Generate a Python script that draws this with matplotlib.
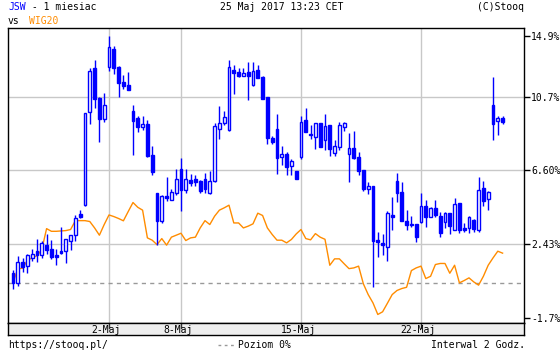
import numpy as np
import matplotlib
matplotlib.use("Agg")
import matplotlib.pyplot as plt

# ---- data (percent change vs reference) ----
jsw_open = [0.80, 0.24, 1.42, 1.18, 1.66, 2.04, 1.85, 2.40, 2.17, 1.83,
            2.04, 2.04, 2.60, 2.94, 4.14, 4.66, 9.86, 12.35, 10.67, 9.50,
            12.43, 13.42, 12.41, 11.54, 11.39, 9.91, 9.54, 9.05, 9.20, 7.46,
            5.32, 3.73, 5.15, 4.94, 5.34, 6.65, 5.49, 6.03, 6.09, 6.00,
            6.09, 5.32, 6.01, 8.94, 9.24, 8.88, 12.22, 12.13, 11.92, 12.13,
            11.38, 12.24, 11.84, 10.70, 8.41, 8.92, 7.33, 7.51, 6.82, 6.54,
            7.36, 9.43, 8.64, 8.49, 9.24, 8.28, 9.13, 7.59, 7.93, 9.01,
            7.53, 7.85, 7.33, 6.61, 5.56, 5.71, 2.68, 2.49, 2.30, 4.08,
            5.98, 5.38, 3.76, 3.58, 3.58, 3.67, 4.57, 3.99, 4.48, 4.01,
            3.67, 4.18, 3.26, 4.76, 3.35, 3.35, 3.78, 3.26, 5.60, 4.96,
            10.25, 9.35, 9.54]
jsw_high = [0.99, 1.76, 1.66, 1.89, 2.19, 2.75, 2.60, 3.01, 2.68, 2.15,
            3.41, 2.71, 2.98, 4.06, 4.36, 9.80, 12.37, 12.80, 10.70, 10.94,
            14.15, 13.59, 12.48, 11.96, 12.14, 10.27, 9.63, 9.63, 9.43, 7.96,
            5.32, 5.23, 6.22, 5.53, 6.65, 7.29, 6.67, 6.39, 6.33, 6.07,
            6.43, 6.58, 9.26, 10.21, 9.91, 12.80, 12.54, 12.35, 12.35, 12.69,
            12.69, 12.54, 11.88, 10.70, 8.51, 9.76, 7.96, 7.63, 7.23, 6.54,
            9.63, 10.10, 9.14, 9.24, 9.24, 9.76, 9.16, 8.30, 9.29, 9.29,
            8.68, 8.79, 7.63, 6.61, 5.92, 5.71, 3.13, 3.01, 4.33, 5.08,
            6.45, 5.94, 4.36, 4.01, 3.58, 5.32, 4.94, 4.53, 4.91, 4.25,
            4.25, 4.18, 5.04, 4.76, 3.61, 4.01, 3.84, 6.22, 6.00, 5.45,
            11.83, 9.65, 9.65]
jsw_low = [-0.06, 0.11, 0.86, 0.82, 1.48, 1.44, 1.63, 1.89, 1.61, 1.29,
           1.91, 1.40, 2.11, 2.64, 3.91, 4.61, 9.22, 10.10, 8.21, 9.31,
           12.16, 12.03, 10.70, 11.17, 11.11, 7.48, 8.73, 8.88, 7.33, 6.35,
           2.41, 3.63, 4.89, 4.91, 5.23, 4.33, 5.34, 5.69, 5.71, 5.32,
           5.30, 5.28, 5.94, 8.38, 9.16, 8.81, 10.91, 11.86, 11.88, 10.57,
           11.34, 11.79, 10.61, 8.08, 8.08, 6.41, 6.91, 6.35, 6.35, 6.13,
           7.25, 8.75, 8.36, 7.81, 7.93, 7.76, 7.42, 7.42, 7.76, 8.79,
           5.94, 7.23, 6.31, 5.41, 5.26, 0.05, 1.74, 1.81, 1.51, 3.26,
           4.83, 3.76, 3.26, 3.41, 2.53, 3.60, 3.39, 3.99, 3.99, 2.86,
           3.37, 3.03, 3.26, 3.07, 3.13, 3.05, 3.13, 3.13, 4.57, 4.38,
           8.32, 8.60, 9.22]
jsw_close = [0.24, 1.42, 1.14, 1.85, 1.89, 1.81, 2.49, 2.13, 1.74, 1.72,
             1.93, 2.71, 2.94, 3.89, 3.97, 9.80, 12.16, 10.63, 9.50, 10.25,
             13.51, 12.35, 11.53, 11.36, 11.13, 9.39, 9.01, 9.18, 7.40, 6.50,
             3.76, 5.13, 5.04, 5.38, 6.09, 5.51, 6.09, 5.88, 5.94, 5.41,
             5.56, 5.98, 9.07, 9.24, 9.58, 12.39, 12.09, 11.92, 12.07, 11.92,
             12.16, 11.81, 10.63, 8.41, 8.17, 7.29, 7.51, 6.80, 7.10, 6.13,
             9.29, 8.77, 8.56, 9.24, 7.93, 9.07, 7.81, 7.96, 9.13, 9.24,
             7.83, 7.31, 6.54, 5.53, 5.69, 2.60, 2.55, 2.41, 4.19, 3.99,
             5.34, 3.76, 3.54, 3.50, 2.83, 4.57, 3.99, 4.48, 4.06, 3.05,
             4.18, 3.48, 4.70, 3.26, 3.24, 3.95, 3.28, 5.47, 4.85, 5.38,
             9.22, 9.56, 9.33]
wig20 = [0.26, 1.05, 1.08, 1.53, 1.66, 1.79, 2.13, 3.31, 3.16, 3.16,
         3.18, 3.20, 3.26, 3.76, 3.76, 3.76, 3.71, 3.35, 2.94, 3.54,
         4.08, 3.99, 3.88, 3.75, 4.27, 4.78, 4.51, 4.35, 2.79, 2.66,
         2.41, 2.75, 2.38, 2.83, 2.94, 3.05, 2.64, 2.79, 2.83, 3.35,
         3.76, 3.54, 4.01, 4.35, 4.48, 4.63, 3.63, 3.63, 3.35, 3.45,
         3.58, 4.18, 4.05, 3.35, 2.98, 2.66, 2.66, 2.51, 2.70, 3.01,
         3.26, 2.75, 2.68, 3.03, 2.83, 2.71, 1.25, 1.61, 1.61, 1.33,
         1.06, 1.10, 1.20, 0.20, -0.40, -0.87, -1.52, -1.37, -0.89, -0.40,
         -0.17, -0.06, 0.01, 0.95, 1.10, 1.20, 0.50, 0.63, 1.29, 1.35,
         1.35, 0.80, 1.25, 0.26, 0.39, 0.54, 0.31, 0.13, 0.63, 1.25,
         1.66, 2.04, 1.93]
date_labels = ["2-Maj", "8-Maj", "15-Maj", "22-Maj"]
date_bar_index = [20, 35, 60, 85]
ytick_values = [14.9, 10.7, 6.6, 2.43, -1.7]
ytick_labels = ["14.9%", "10.7%", "6.60%", "2.43%", "-1.7%"]
grid_values = [10.7, 6.6, 2.43]
zero_level = 0.24

BLUE = "#0000ff"
ORANGE = "#ff8c00"
GRID = "#c8c8c8"
MONO = "DejaVu Sans Mono"
FS = 7

W, H = 560, 350
fig = plt.figure(figsize=(W / 100, H / 100), dpi=100)
fig.patch.set_facecolor("white")

def fx(px):
    return px / W

def fy(py):
    return 1 - py / H

ax = fig.add_axes([fx(8), fy(323), fx(524) - fx(8), fy(28) - fy(323)])
ax.set_facecolor("white")
n = len(jsw_open)
x = np.arange(n)
ax.set_xlim(-1.04, 106.46)
ylo, yhi = -2.0, 14.6
ax.set_ylim(ylo, yhi)

for g in grid_values:
    ax.axhline(g, color=GRID, lw=1, zorder=1)
for b in date_bar_index:
    ax.axvline(b, color=GRID, lw=1, zorder=1)
ax.axhline(zero_level, color="#999999", lw=1, ls=(0, (3, 3)), zorder=1)

ax.plot(x, wig20, color=ORANGE, lw=1, zorder=2)

o = np.array(jsw_open); c = np.array(jsw_close)
hi = np.array(jsw_high); lo = np.array(jsw_low)
ax.vlines(x, lo, hi, color=BLUE, lw=1, zorder=3)
up = c >= o
bottoms = np.minimum(o, c)
heights = np.maximum(np.abs(c - o), 0.06)
ax.bar(x[up], heights[up], bottom=bottoms[up], width=0.55,
       facecolor="white", edgecolor=BLUE, linewidth=1, zorder=4)
ax.bar(x[~up], heights[~up], bottom=bottoms[~up], width=0.55,
       facecolor=BLUE, edgecolor=BLUE, linewidth=1, zorder=4)

for s in ax.spines.values():
    s.set_color("black")
    s.set_linewidth(1)
ax.set_xticks([])
ax.yaxis.tick_right()
tick_pos = [min(v, yhi - 0.45) for v in ytick_values]
ax.set_yticks(tick_pos)
ax.set_yticklabels(ytick_labels, fontfamily=MONO, fontsize=FS)
ax.tick_params(axis="y", length=4, width=1, pad=1, colors="black")

# date band
axd = fig.add_axes([fx(8), fy(335), fx(524) - fx(8), fy(323) - fy(335)])
axd.set_facecolor("#eeeeee")
axd.set_xlim(ax.get_xlim())
axd.set_ylim(0, 1)
axd.set_yticks([])
axd.set_xticks([])
for b in date_bar_index:
    axd.plot([b, b], [0.55, 1], color="#333333", lw=1)
for b, lab in zip(date_bar_index, date_labels):
    axd.text(b - 0.6, 0.45, lab, ha="center", va="center",
             fontfamily=MONO, fontsize=FS)
for s in axd.spines.values():
    s.set_color("black")
    s.set_linewidth(1)

# header texts
fig.text(fx(8), fy(7.5), "JSW", color=BLUE, fontfamily=MONO, fontsize=FS, va="center")
fig.text(fx(8 + 3 * 5.9), fy(7.5), " - 1 miesiac", color="black", fontfamily=MONO, fontsize=FS, va="center")
fig.text(fx(8), fy(20.5), "vs", color="black", fontfamily=MONO, fontsize=FS, va="center")
fig.text(fx(29), fy(20.5), "WIG20", color=ORANGE, fontfamily=MONO, fontsize=FS, va="center")
fig.text(fx(220), fy(7.5), "25 Maj 2017 13:23 CET", color="black", fontfamily=MONO, fontsize=FS, va="center")
fig.text(fx(524), fy(7.5), "(C)Stooq", color="black", fontfamily=MONO, fontsize=FS, va="center", ha="right")

# footer
fig.text(fx(8), fy(345), "https://stooq.pl/", color="black", fontfamily=MONO, fontsize=FS, va="center")
fig.add_artist(plt.Line2D([fx(218), fx(236)], [fy(345), fy(345)], color="#999999",
                          lw=1, ls=(0, (2, 2.5)), transform=fig.transFigure))
fig.text(fx(238), fy(345), "Poziom 0%", color="black", fontfamily=MONO, fontsize=FS, va="center")
fig.text(fx(525), fy(345), "Interwal 2 Godz.", color="black", fontfamily=MONO, fontsize=FS, va="center", ha="right")

fig.savefig("out.png", dpi=100, facecolor="white")
